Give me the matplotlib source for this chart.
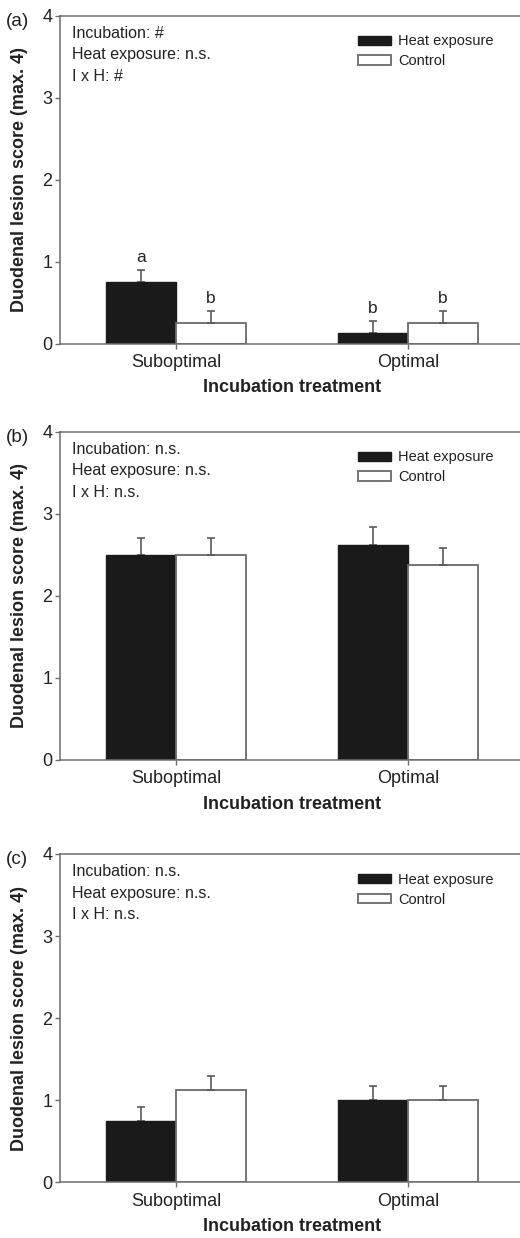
import matplotlib
matplotlib.use("Agg")
import matplotlib.pyplot as plt
import numpy as np

plt.rcParams['font.family'] = ['Liberation Sans', 'DejaVu Sans']

# Data
groups = ["Suboptimal", "Optimal"]
series = ["Heat exposure", "Control"]
panels = ["(a)", "(b)", "(c)"]

heat_mean = [[0.75, 0.125], [2.5, 2.625], [0.75, 1.0]]
heat_err = [[0.15, 0.15], [0.21, 0.21], [0.17, 0.17]]
ctrl_mean = [[0.25, 0.25], [2.5, 2.375], [1.125, 1.0]]
ctrl_err = [[0.15, 0.15], [0.21, 0.21], [0.165, 0.17]]

stats = [
    ["Incubation: #", "Heat exposure: n.s.", "I x H: #"],
    ["Incubation: n.s.", "Heat exposure: n.s.", "I x H: n.s."],
    ["Incubation: n.s.", "Heat exposure: n.s.", "I x H: n.s."],
]
# letters for panel (a): (heat, control) per group
letters_a = [["a", "b"], ["b", "b"]]

W, H = 520, 1238
fig = plt.figure(figsize=(W / 100, H / 100), dpi=100)

spine_c = "#6e6e6e"
text_c = "#222222"
# axes top / bottom in pixels
ax_px = [(15.7, 343.7), (431.7, 760.0), (854.0, 1182.3)]
left_px, right_px = 60, 524

x = np.arange(len(groups))
bw = 0.3

for i, (top, bot) in enumerate(ax_px):
    ax = fig.add_axes([left_px / W, 1 - bot / H, (right_px - left_px) / W, (bot - top) / H])
    ax.bar(x - bw / 2, heat_mean[i], bw, color="#1a1a1a", edgecolor="#1a1a1a",
           linewidth=1.0, label=series[0], zorder=2)
    ax.bar(x + bw / 2, ctrl_mean[i], bw, color="white", edgecolor="#6a6a6a",
           linewidth=1.3, label=series[1], zorder=2)
    ax.errorbar(x - bw / 2, heat_mean[i], yerr=[[0, 0], heat_err[i]], fmt="none",
                ecolor="#5a5a5a", elinewidth=1.2, capsize=2.9, capthick=1.2, zorder=1)
    ax.errorbar(x + bw / 2, ctrl_mean[i], yerr=[[0, 0], ctrl_err[i]], fmt="none",
                ecolor="#5a5a5a", elinewidth=1.2, capsize=2.9, capthick=1.2, zorder=3)

    ax.set_xlim(-0.5, 1.5)
    ax.set_ylim(0, 4)
    ax.set_yticks([0, 1, 2, 3, 4])
    ax.set_xticks(x)
    ax.set_xticklabels(groups)
    for s in ax.spines.values():
        s.set_color(spine_c)
        s.set_linewidth(1.1)
    ax.tick_params(axis="both", colors=spine_c, labelcolor=text_c, labelsize=13,
                   length=3.5, width=1.0, direction="out")
    ax.tick_params(axis="x", pad=4)
    ax.tick_params(axis="y", pad=2)

    ax.set_xlabel("Incubation treatment", fontsize=13, fontweight="bold",
                  color=text_c, labelpad=6)
    ax.set_ylabel("Duodenal lesion score (max. 4)", fontsize=13, fontweight="bold",
                  color=text_c, labelpad=10)

    for k, line in enumerate(stats[i]):
        ax.text(12.3 / 464, 1 - (17.5 + 21.5 * k) / 328, line, transform=ax.transAxes,
                fontsize=11.5, color=text_c, va="center", ha="left")

    ax.legend(loc="upper left", bbox_to_anchor=(0.643, 0.943), frameon=False,
              fontsize=10.5, handlelength=2.25, handleheight=0.62,
              handletextpad=0.5, labelspacing=0.4, borderpad=0, borderaxespad=0,
              labelcolor=text_c)

    fig.text(6 / W, 1 - (top + 6) / H, panels[i], fontsize=13.6, color=text_c,
             ha="left", va="center")

    if i == 0:
        for g in range(len(groups)):
            ax.text(x[g] - bw / 2, heat_mean[i][g] + heat_err[i][g] + 0.1, letters_a[g][0],
                    ha="center", va="baseline", fontsize=12.5, color=text_c)
            ax.text(x[g] + bw / 2, ctrl_mean[i][g] + ctrl_err[i][g] + 0.1, letters_a[g][1],
                    ha="center", va="baseline", fontsize=12.5, color=text_c)

fig.savefig("out.png", dpi=100)
